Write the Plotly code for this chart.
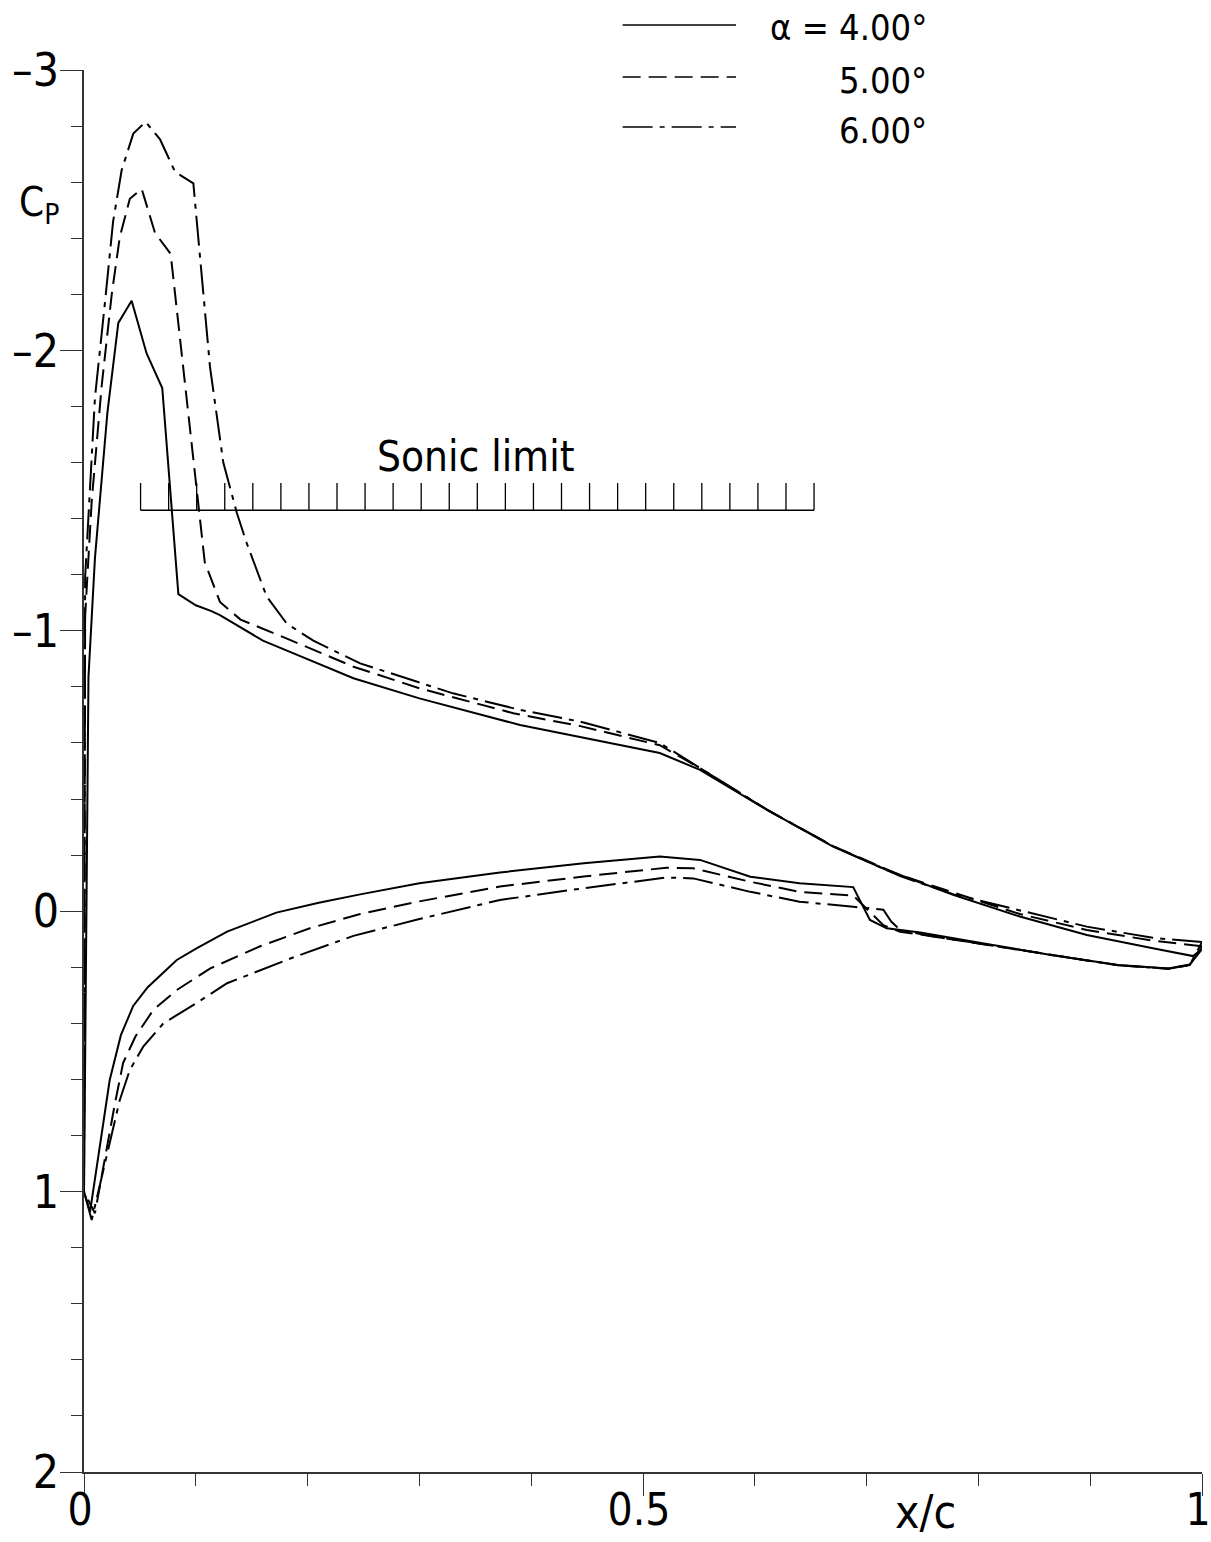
import plotly.graph_objects as go

# Pressure distributions Cp(x/c) for three angles of attack.
# Upper surface arrays run leading edge -> trailing edge, lower surface likewise.

up_x_4 = [0.004, 0.0098, 0.0209, 0.0307, 0.0426, 0.056, 0.070, 0.0844, 0.100, 0.114, 0.1216,
          0.160, 0.181, 0.241, 0.300, 0.390, 0.444, 0.515, 0.551, 0.611, 0.670, 0.718, 0.778,
          0.837, 0.897, 0.956, 0.992, 1.0]
up_cp_4 = [-0.835, -1.26, -1.777, -2.098, -2.177, -1.989, -1.866, -1.131, -1.091, -1.070, -1.056,
           -0.965, -0.930, -0.831, -0.759, -0.664, -0.622, -0.564, -0.504, -0.361, -0.230, -0.147,
           -0.058, 0.019, 0.085, 0.132, 0.160, 0.135]
lo_x_4 = [0.0, 0.0054, 0.023, 0.033, 0.044, 0.057, 0.083, 0.101, 0.128, 0.172, 0.210, 0.247,
          0.300, 0.372, 0.447, 0.515, 0.551, 0.596, 0.640, 0.688, 0.703, 0.718, 0.748, 0.805,
          0.865, 0.925, 0.970, 0.989, 1.0]
lo_cp_4 = [1.0, 1.072, 0.602, 0.442, 0.338, 0.271, 0.174, 0.132, 0.073, 0.005, -0.030, -0.060,
           -0.100, -0.138, -0.171, -0.195, -0.183, -0.123, -0.100, -0.086, 0.031, 0.061, 0.076,
           0.115, 0.156, 0.192, 0.204, 0.190, 0.135]

up_x_5 = [0.001, 0.0069, 0.0158, 0.0248, 0.032, 0.041, 0.0516, 0.0635, 0.0775, 0.108, 0.1216,
          0.140, 0.181, 0.241, 0.300, 0.384, 0.444, 0.515, 0.551, 0.611, 0.670, 0.730, 0.778,
          0.837, 0.897, 0.956, 1.0]
up_cp_5 = [-1.053, -1.463, -1.873, -2.200, -2.404, -2.541, -2.576, -2.419, -2.344, -1.245, -1.103,
           -1.040, -0.973, -0.872, -0.795, -0.706, -0.660, -0.592, -0.510, -0.361, -0.232, -0.129,
           -0.066, 0.010, 0.067, 0.105, 0.125]
lo_x_5 = [0.0, 0.0098, 0.0277, 0.035, 0.046, 0.062, 0.083, 0.113, 0.157, 0.202, 0.247, 0.300,
          0.372, 0.447, 0.521, 0.545, 0.596, 0.640, 0.688, 0.715, 0.730, 0.760, 0.805, 0.865,
          0.925, 0.970, 0.989, 1.0]
lo_cp_5 = [1.0, 1.077, 0.685, 0.541, 0.447, 0.352, 0.281, 0.204, 0.126, 0.061, 0.010, -0.035,
           -0.088, -0.124, -0.155, -0.153, -0.105, -0.069, -0.056, 0.050, 0.073, 0.090, 0.118,
           0.158, 0.193, 0.205, 0.192, 0.125]

up_x_6 = [0.001, 0.0098, 0.0188, 0.026, 0.0337, 0.0441, 0.0551, 0.068, 0.0814, 0.0978, 0.1127,
          0.1246, 0.1366, 0.1455, 0.1634, 0.1813, 0.2051, 0.247, 0.330, 0.390, 0.444, 0.515,
          0.551, 0.611, 0.670, 0.730, 0.778, 0.837, 0.897, 0.956, 1.0]
up_cp_6 = [-1.19, -1.832, -2.173, -2.459, -2.643, -2.773, -2.815, -2.753, -2.637, -2.596, -1.941,
           -1.600, -1.422, -1.313, -1.122, -1.026, -0.965, -0.884, -0.777, -0.718, -0.676, -0.600,
           -0.512, -0.362, -0.232, -0.125, -0.060, -0.002, 0.055, 0.095, 0.110]
lo_x_6 = [0.0, 0.0069, 0.032, 0.041, 0.053, 0.071, 0.098, 0.128, 0.187, 0.241, 0.300, 0.372,
          0.447, 0.521, 0.545, 0.596, 0.640, 0.688, 0.715, 0.722, 0.730, 0.760, 0.805, 0.865,
          0.925, 0.970, 0.989, 1.0]
lo_cp_6 = [1.0, 1.101, 0.673, 0.566, 0.483, 0.400, 0.334, 0.257, 0.165, 0.088, 0.028, -0.040,
           -0.082, -0.120, -0.117, -0.069, -0.034, -0.016, -0.005, 0.037, 0.067, 0.090, 0.118,
           0.158, 0.193, 0.205, 0.192, 0.110]

alpha_labels = ["\u03b1 = 4.00\u00b0", "5.00\u00b0", "6.00\u00b0"]

# Axis tick positions and labels
x_tick_vals = [0, 0.5, 1]
x_tick_text = ["0", "0.5", "1"]
y_tick_vals = [-3, -2, -1, 0, 1, 2]
y_tick_text = ["\u20133", "\u20132", "\u20131", "0", "1", "2"]

# Critical pressure coefficient (sonic limit) and its chordwise extent
sonic_cp = -1.43
sonic_x_start = 0.0506
sonic_x_end = 0.653
sonic_tick_count = 25
sonic_tick_height = 0.097

FONT = "Liberation Sans Narrow, DejaVu Sans Condensed, Liberation Sans, sans-serif"
INK = "#000000"
AXIS = "#333333"

series = [
    (up_x_4, up_cp_4, lo_x_4, lo_cp_4, "solid"),
    (up_x_5, up_cp_5, lo_x_5, lo_cp_5, "18px,8px"),
    (up_x_6, up_cp_6, lo_x_6, lo_cp_6, "30px,7px,5px,7px"),
]

fig = go.Figure()

for ux, ucp, lx, lcp, dash in series:
    # closed loop: trailing edge -> upper surface -> leading edge -> lower surface -> trailing edge
    xs = list(reversed(ux)) + list(lx)
    ys = list(reversed(ucp)) + list(lcp)
    fig.add_trace(go.Scatter(x=xs, y=ys, mode="lines",
                             line=dict(color=INK, width=2, dash=dash),
                             hoverinfo="skip", showlegend=False))

# Sonic limit line with hatch ticks
step = (sonic_x_end - sonic_x_start) / (sonic_tick_count - 1)
hx, hy = [sonic_x_start, sonic_x_end, None], [sonic_cp, sonic_cp, None]
for i in range(sonic_tick_count):
    xv = sonic_x_start + i * step
    hx += [xv, xv, None]
    hy += [sonic_cp, sonic_cp - sonic_tick_height, None]
fig.add_trace(go.Scatter(x=hx, y=hy, mode="lines", line=dict(color=INK, width=1.3),
                         hoverinfo="skip", showlegend=False))

fig.add_annotation(x=0.350, y=sonic_cp - sonic_tick_height,
                   xref="x", yref="y", text="Sonic limit", showarrow=False,
                   yanchor="bottom", yshift=0, font=dict(family=FONT, size=42, color=INK))

# Legend drawn as line samples with labels
legend_y = [1.0321, 0.995, 0.9593]
for (_, _, _, _, dash), ly, lab in zip(series, legend_y, alpha_labels):
    fig.add_shape(type="line", xref="paper", yref="paper", x0=0.4818, x1=0.5832, y0=ly, y1=ly,
                  line=dict(color=INK, width=1.6, dash=dash))
    fig.add_annotation(x=0.756, y=ly, xref="paper", yref="paper", text=lab, showarrow=False,
                       xanchor="right", yanchor="middle", yshift=-3,
                       font=dict(family=FONT, size=36, color=INK))

# Axis titles
fig.add_annotation(x=-0.060, y=0.9037, xref="paper", yref="paper",
                   text="C<sub>P</sub>", showarrow=False, xanchor="left", yanchor="middle",
                   font=dict(family=FONT, size=40, color=INK))
fig.add_annotation(x=0.753, y=-0.0285, xref="paper", yref="paper", text="x/c",
                   showarrow=False, xanchor="center", yanchor="middle",
                   font=dict(family=FONT, size=46, color=INK))

axis_common = dict(showgrid=False, zeroline=False, automargin=False,
                   showline=True, linecolor=AXIS, linewidth=1.5,
                   ticks="outside", tickmode="array",
                   ticklen=22, tickwidth=1.3, tickcolor=AXIS,
                   ticklabeloverflow="allow")

fig.update_layout(
    width=1211, height=1542,
    margin=dict(l=84, r=9, t=70, b=70),
    plot_bgcolor="white", paper_bgcolor="white",
    showlegend=False,
    font=dict(family=FONT, color=INK),
    xaxis=dict(range=[0, 1], tickvals=x_tick_vals, ticktext=x_tick_text,
               ticklabelstandoff=-24, ticklabelshift=-4,
               tickfont=dict(family=FONT, size=44, color=INK),
               minor=dict(tickmode="linear", tick0=0, dtick=0.1, ticks="outside",
                          ticklen=12, tickwidth=1.3, tickcolor=AXIS),
               **axis_common),
    yaxis=dict(range=[2, -3], tickvals=y_tick_vals, ticktext=y_tick_text,
               ticklabelstandoff=-8,
               tickfont=dict(family=FONT, size=46, color=INK),
               minor=dict(tickmode="linear", tick0=0, dtick=0.2, ticks="outside",
                          ticklen=11, tickwidth=1.3, tickcolor=AXIS),
               **axis_common),
)

fig.write_html("out.html")
